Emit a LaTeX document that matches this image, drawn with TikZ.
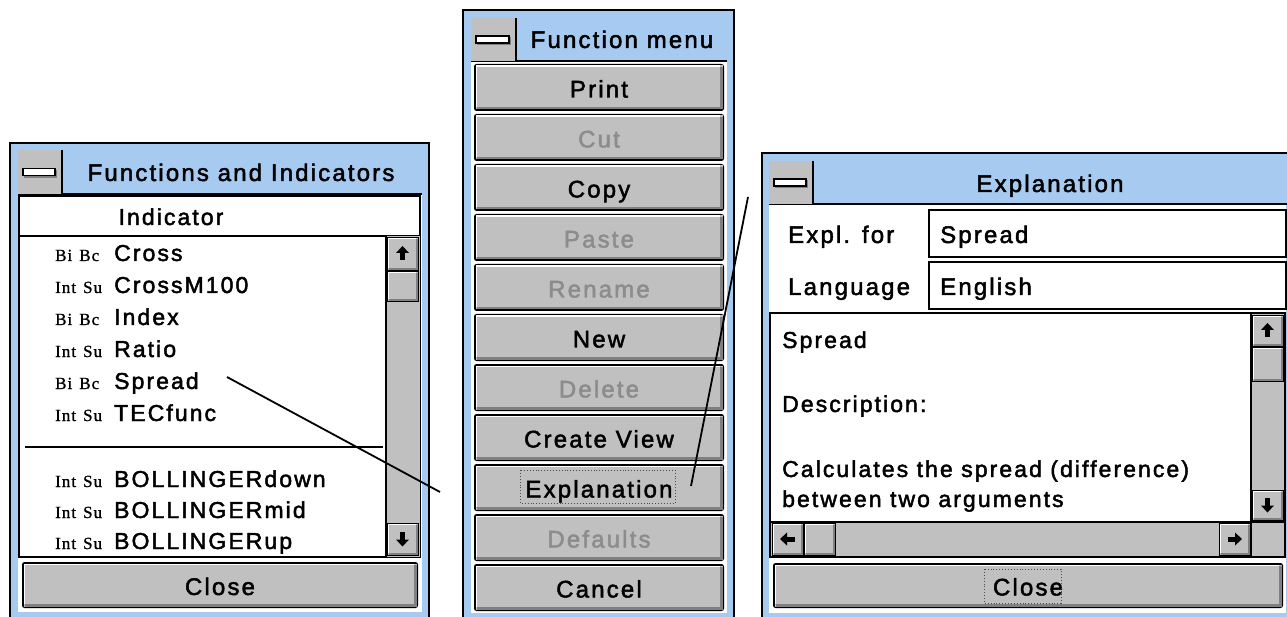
\documentclass[tikz,border=0pt]{standalone}
\usepackage{fontspec}
\setmainfont{Liberation Sans}[LetterSpace=9, FakeBold=2]
\newfontfamily\prefixfont{Liberation Serif}[LetterSpace=6, FakeBold=1]
\definecolor{winblue}{HTML}{A6CAF0}
\definecolor{btngray}{HTML}{C0C0C0}
\definecolor{shadowgray}{HTML}{808080}
\definecolor{disabledgray}{HTML}{8C8C8C}
\tikzset{
  ui/.style={font=\fontsize{24}{24}\selectfont, inner sep=0pt},
  item/.style={font=\fontsize{23}{23}\selectfont, anchor=base west, inner sep=0pt},
  pre/.style={font=\prefixfont\fontsize{17}{17}\selectfont, anchor=base west, inner sep=0pt},
  disabled/.style={text=disabledgray},
  enabled/.style={},
  focusbox/.style={draw=black!70, dotted, line width=0.9},
  connector/.style={draw=black, line width=1.8},
  boxline/.style={draw=black, line width=1.3},
}
\newcommand\pregap{\hspace{7pt}}
% window frame: x1 y1 x2 y2
\newcommand\uiwindow[4]{%
  \filldraw[fill=winblue, draw=black, line width=1.4] (#1,#2) rectangle (#3,#4);}
% title bar with control box: x1 y1 x2 y2 ; control box right edge #5
\newcommand\uititle[5]{%
  \fill[winblue] (#1,#2) rectangle (#3,#4);
  \draw[black, line width=1.4] (#1,#4) -- (#3,#4);
  \fill[btngray] (#1,#2) rectangle (#5,#4);
  \draw[black, line width=1.2] (#5,#2) -- (#5,#4);
  \fill[shadowgray] ({#1+6},{(#2+#4)/2-2}) rectangle ({#5-5},{(#2+#4)/2+6});
  \filldraw[fill=white, draw=black, line width=1.1] ({#1+5},{(#2+#4)/2-3.5}) rectangle ({#5-7},{(#2+#4)/2+3.5});}
% button: name x1 y1 x2 y2 style text
\newcommand\uibtn[7]{%
  \fill[black, rounded corners=2.5] (#2,#3) rectangle (#4,#5);
  \fill[btngray] ({#2+1.5},{#3+1.5}) rectangle ({#4-1.5},{#5-1.5});
  \draw[shadowgray, line width=2.5] ({#2+3},{#5-2.75}) -- ({#4-2.75},{#5-2.75}) -- ({#4-2.75},{#3+3});
  \draw[white, line width=1.5] ({#2+2.25},{#5-4}) -- ({#2+2.25},{#3+2.25}) -- ({#4-4},{#3+2.25});
  \node[ui,#6,anchor=base] (#1) at ({(#2+#4)/2},{(#3+#5)/2+10}) {#7};}
% small plain scroll box: x1 y1 x2 y2
\newcommand\scrollbox[4]{%
  \fill[black] (#1,#2) rectangle (#3,#4);
  \fill[btngray] ({#1+1},{#2+1}) rectangle ({#3-1},{#4-1});
  \draw[shadowgray, line width=2] ({#1+2},{#4-2}) -- ({#3-2},{#4-2}) -- ({#3-2},{#2+2});
  \draw[white, line width=1.3] ({#1+1.8},{#4-3}) -- ({#1+1.8},{#2+1.8}) -- ({#3-3},{#2+1.8});}
% arrow button: x1 y1 x2 y2 rotation (0 up, 180 down, 90 left, -90 right)
\newcommand\arrowbtn[5]{%
  \scrollbox{#1}{#2}{#3}{#4}
  \begin{scope}[shift={({(#1+#3)/2-0.5},{(#2+#4)/2-0.5})}, rotate=#5]
    \fill[black] (-6.5,-0.5) -- (0,-7.5) -- (6.5,-0.5) -- cycle;
    \fill[black] (-2.5,-1) rectangle (2.5,7);
  \end{scope}}

\begin{document}
\begin{tikzpicture}[x=1pt,y=-1pt]
\useasboundingbox (0,0) rectangle (1287,617);
\fill[white] (0,0) rectangle (1287,617);
\clip (0,0) rectangle (1287,617);

% ================= Left window =================
\uiwindow{10}{143}{429}{626}
\fill[white] (18,150) rectangle (422,612);
\uititle{18}{150}{422}{194}{62}
\node[ui, anchor=base] (lefttitle) at (241,181) {Functions and Indicators};
\filldraw[fill=white, boxline] (19,196) rectangle (420,236);
\node[ui, font=\fontsize{23}{23}\selectfont, anchor=base] (indhead) at (171,225) {Indicator};
\filldraw[fill=white, boxline] (19,236) rectangle (420,557);
\fill[btngray] (386,236) rectangle (420,557);
\draw[black, line width=1.2] (386,236) -- (386,557);
\arrowbtn{387}{237}{419}{271}{0}
\scrollbox{387}{271}{419}{302}
\arrowbtn{387}{523}{419}{556}{180}
\draw[black, line width=1.3] (25,447) -- (383,447);

\node[pre] (p1) at (55,261) {Bi\pregap Bc};
\node[item] (i1) at (114,261) {Cross};
\node[pre] (p2) at (55,293) {Int\pregap Su};
\node[item] (i2) at (114,293) {CrossM100};
\node[pre] (p3) at (55,325) {Bi\pregap Bc};
\node[item] (i3) at (114,325) {Index};
\node[pre] (p4) at (55,357) {Int\pregap Su};
\node[item] (i4) at (114,357) {Ratio};
\node[pre] (p5) at (55,389) {Bi\pregap Bc};
\node[item] (spreaditem) at (114,389) {Spread};
\node[pre] (p6) at (55,421) {Int\pregap Su};
\node[item] (i6) at (114,421) {TECfunc};
\node[pre] (p7) at (55,487) {Int\pregap Su};
\node[item] (i7) at (114,487) {BOLLINGERdown};
\node[pre] (p8) at (55,518) {Int\pregap Su};
\node[item] (i8) at (114,518) {BOLLINGERmid};
\node[pre] (p9) at (55,549) {Int\pregap Su};
\node[item] (i9) at (114,549) {BOLLINGERup};

\uibtn{leftclose}{22}{562}{418}{608}{enabled}{Close}

% ================= Middle window =================
\uiwindow{463}{10}{734}{626}
\fill[white] (471,18) rectangle (727,613);
\uititle{471}{18}{727}{61}{516}
\node[ui, anchor=base] (midtitle) at (622,48) {Function menu};
\uibtn{bprint}{474}{64}{724}{111}{enabled}{Print}
\uibtn{bcut}{474}{114}{724}{161}{disabled}{Cut}
\uibtn{bcopy}{474}{164}{724}{211}{enabled}{Copy}
\uibtn{bpaste}{474}{214}{724}{261}{disabled}{Paste}
\uibtn{brename}{474}{264}{724}{311}{disabled}{Rename}
\uibtn{bnew}{474}{314}{724}{361}{enabled}{New}
\uibtn{bdelete}{474}{364}{724}{411}{disabled}{Delete}
\uibtn{bview}{474}{414}{724}{461}{enabled}{Create View}
\uibtn{bexpl}{474}{464}{724}{511}{enabled}{Explanation}
\uibtn{bdefaults}{474}{514}{724}{561}{disabled}{Defaults}
\uibtn{bcancel}{474}{564}{724}{611}{enabled}{Cancel}
\draw[focusbox] (520,470) rectangle (675,503);

% ================= Right window =================
\uiwindow{762}{153}{1300}{626}
\fill[white] (769,161) rectangle (1286,613);
\uititle{769}{161}{1292}{204}{813}
\node[ui, anchor=base] (righttitle) at (1050,192) {Explanation};
\node[ui, anchor=base west] (lblexpl) at (788,243) {Expl. for};
\node[ui, anchor=base west] (lbllang) at (788,295) {Language};
\filldraw[fill=white, boxline] (929,210) rectangle (1286,257);
\filldraw[fill=white, boxline] (929,262) rectangle (1286,309);
\node[ui, anchor=base west] (valexpl) at (940,243) {Spread};
\node[ui, anchor=base west] (vallang) at (940,295) {English};
\filldraw[fill=white, boxline] (770,313) rectangle (1285,557);
\node[item] (t1) at (782,348) {Spread};
\node[item] (t2) at (782,412) {Description:};
\node[item] (t3) at (782,477) {Calculates the spread (difference)};
\node[item] (t4) at (782,507) {between two arguments};
% vertical scrollbar
\fill[btngray] (1251,314) rectangle (1284,522);
\draw[black, line width=1.2] (1251,314) -- (1251,522);
\arrowbtn{1252}{315}{1284}{347}{0}
\scrollbox{1252}{347}{1284}{382}
\arrowbtn{1252}{490}{1284}{521}{180}
% horizontal scrollbar
\fill[btngray] (771,522) rectangle (1284,556);
\draw[black, line width=1.2] (770,522) -- (1285,522);
\draw[black, line width=1.2] (1251,522) -- (1251,556);
\arrowbtn{772}{523}{804}{556}{90}
\scrollbox{804}{523}{836}{556}
\arrowbtn{1219}{523}{1251}{556}{-90}
\uibtn{rightclose}{773}{563}{1283}{608}{enabled}{Close}
\draw[focusbox] (984,569) rectangle (1061,603);

% ================= Connectors =================
\coordinate (linkA) at (227,377);
\coordinate (linkB) at (440,492);
\coordinate (linkC) at (691,486);
\coordinate (linkD) at (748,197);
\draw[connector] (linkA) -- (linkB);
\draw[connector] (linkC) -- (linkD);
\end{tikzpicture}
\end{document}
